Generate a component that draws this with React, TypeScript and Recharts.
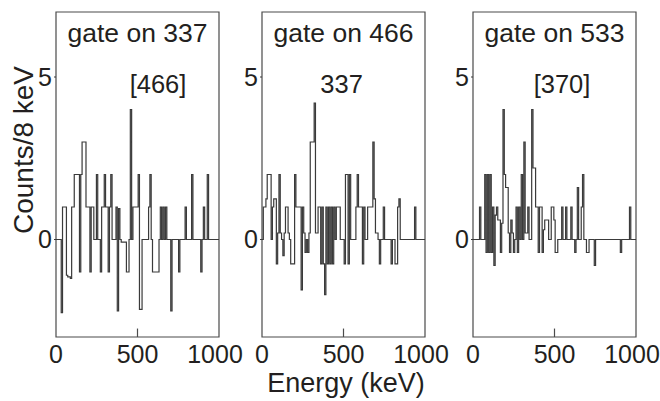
import {
  Line,
  LineChart,
  ReferenceArea,
  ReferenceDot,
  ReferenceLine,
  XAxis,
  YAxis,
} from 'recharts'

// energy ticks (keV) and count ticks
const energyTicks = [0, 500, 1000]
const countTicks = [0, 5]

// non-zero bins, [lower bin edge in keV, counts per 8 keV]; every other bin is 0
const gate337: [number, number][] = [
  [32, -2.25], [40, 1], [48, 1], [56, 1], [64, -1.1], [72, -1.15], [80, -1.15], [88, -1.2],
  [96, 1], [104, 1], [112, 2], [120, 2], [128, 2], [136, 2], [144, -1], [152, 2],
  [160, 3], [168, 3], [176, 3], [184, 1], [192, 1], [200, 1], [208, -1], [216, 1], [224, 1],
  [248, 2], [272, -1], [280, 1], [288, 1], [296, 2], [304, 1], [312, 1], [320, -1], [328, 1],
  [336, 2], [368, 1], [376, -2.2], [384, 0.95], [400, -0.08], [408, -0.08], [416, -0.08],
  [424, -0.08], [432, -1], [440, -1], [456, 4], [472, 1], [480, 1], [488, 1], [496, 1],
  [504, 2], [512, -2.15], [520, -2.15], [568, 1], [576, 2], [592, -1], [600, -1], [608, -1],
  [616, -1], [624, -1], [640, 1], [656, 1], [672, 1], [704, -2.2], [752, -1], [792, 1],
  [832, 2], [888, -1], [904, 1], [928, 2],
]

const gate466: [number, number][] = [
  [8, 1], [16, 1], [24, 1.25], [32, 2], [40, 2], [48, 2], [64, 1], [72, 1.25], [80, 1.25],
  [88, -0.75], [96, 0.2], [104, 2], [112, 0.2], [128, -0.5], [136, 0.2], [144, 1], [152, 1],
  [160, 0.2], [176, -0.75], [184, -0.75], [192, -0.75], [200, 2], [208, 1], [216, 1],
  [224, 1], [232, 1], [240, -1.55], [248, 1], [256, 0.2], [264, -0.4], [280, -0.4],
  [288, 0.2], [296, 3], [304, 3], [312, 3], [320, 4.2], [328, 0.2], [336, 0.2], [344, 1],
  [352, 1], [360, -0.75], [368, 1], [376, -0.75], [384, -1.7], [392, 1], [400, -0.75],
  [408, 1], [416, -0.75], [424, 1], [432, -0.75], [440, 1], [456, 1], [464, 1], [472, 1],
  [504, -0.75], [512, 2], [520, 2], [528, -0.75], [536, 2], [576, 1], [584, 2], [592, 1],
  [600, 1], [608, 1], [616, -0.75], [624, 1], [648, 1], [656, 1], [664, 1], [672, 1],
  [680, 3], [688, 1.25], [696, 0.2], [704, 0.2], [720, -0.75], [744, 1], [792, -0.75],
  [816, -0.75], [824, -0.75], [832, 1], [840, 1.25], [936, 1],
]

const gate533: [number, number][] = [
  [40, 1], [72, 2], [80, -0.4], [88, 2], [96, -0.4], [104, 2], [112, -0.4], [120, 1],
  [128, -0.8], [136, 0.75], [144, 1], [152, 0.6], [160, 0.6], [168, -0.4], [176, 0.5],
  [184, 4], [192, 2], [200, 1.6], [208, 1.6], [216, 0.2], [224, -0.4], [232, 0.6],
  [240, 0.2], [248, -0.4], [264, 1], [272, -0.4], [280, 1], [296, 2], [312, 3], [320, 0.2],
  [328, 0.2], [336, 1], [360, 4], [368, 2.2], [376, 2.2], [384, 1], [392, 1], [400, -0.4],
  [408, 1], [416, 1], [424, -0.4], [432, 0.3], [440, 0.6], [448, 0.6], [456, 0.6],
  [480, 1], [488, 1], [496, 0.6], [504, -0.4], [512, -0.4], [544, 1], [568, 1], [600, 1],
  [624, -0.4], [640, 1.6], [664, 1], [672, 2], [696, -0.4], [704, -0.4], [744, -0.8],
  [904, -0.4], [960, 1],
]

const titles = ['gate on 337', 'gate on 466', 'gate on 533']
const peakLabels = ['[466]', '337', '[370]']

const INK = '#231f20'
const LINE = '#3a3a3a'
const FONT = '"Liberation Sans", Arial, Helvetica, sans-serif'

function toHistogram(bins: [number, number][]) {
  const lookup = new Map(bins)
  const rows: { energy: number; counts: number }[] = []
  for (let e = 0; e < 1000; e += 8) rows.push({ energy: e, counts: lookup.get(e) ?? 0 })
  rows.push({ energy: 1000, counts: rows[rows.length - 1].counts })
  return rows
}

const panels = [
  { title: titles[0], peak: peakLabels[0], peakX: 626, data: toHistogram(gate337), left: 56 },
  { title: titles[1], peak: peakLabels[1], peakX: 488, data: toHistogram(gate466), left: 262 },
  { title: titles[2], peak: peakLabels[2], peakX: 546, data: toHistogram(gate533), left: 473 },
]

// the last label sits a little left of its tick, as in the original figure
function EnergyTick({ x, y, payload }: any) {
  const shift = payload.value === 1000 ? -4 : 0
  return (
    <text
      x={x + shift}
      y={y}
      dy="0.71em"
      textAnchor="middle"
      fontSize={25}
      fill={INK}
      fontFamily={FONT}
    >
      {payload.value}
    </text>
  )
}

function Panel({ title, peak, peakX, data, left }: (typeof panels)[number]) {
  return (
    <div style={{ position: 'absolute', left: left - 50, top: 0 }}>
      <LineChart
        width={243}
        height={401}
        data={data}
        margin={{ top: 12, right: 30, bottom: 34, left: 0 }}
        style={{ overflow: 'visible' }}
      >
        <XAxis
          dataKey="energy"
          type="number"
          domain={[0, 1000]}
          ticks={energyTicks}
          interval={0}
          height={30}
          axisLine={false}
          tickLine={false}
          tickSize={6}
          tickMargin={2}
          tick={<EnergyTick />}
        />
        <YAxis
          type="number"
          domain={[-3, 7]}
          ticks={countTicks}
          interval={0}
          width={50}
          axisLine={false}
          tickSize={2}
          tickMargin={2}
          tickLine={{ stroke: LINE }}
          tick={{ fontSize: 25, fill: INK, fontFamily: FONT }}
        />
        <ReferenceArea x1={0} x2={1000} y1={-3} y2={7} fill="none" stroke="#4a4a4a" strokeWidth={1.2} />
        <ReferenceLine
          segment={[{ x: 500, y: -3 }, { x: 500, y: -2.74 }]}
          stroke="#4a4a4a"
          strokeWidth={1.2}
        />
        <Line
          type="stepAfter"
          dataKey="counts"
          stroke={LINE}
          strokeWidth={1.2}
          dot={false}
          isAnimationActive={false}
        />
        <ReferenceDot
          x={500}
          y={6.36}
          r={0}
          fill="none"
          stroke="none"
          label={{ value: title, position: 'center', fontSize: 26.5, fill: INK, fontFamily: FONT }}
        />
        <ReferenceDot
          x={peakX}
          y={4.78}
          r={0}
          fill="none"
          stroke="none"
          label={{ value: peak, position: 'center', fontSize: 25.5, fill: INK, fontFamily: FONT }}
        />
      </LineChart>
    </div>
  )
}

export default function App() {
  return (
    <div
      style={{
        position: 'absolute',
        left: 0,
        top: 0,
        width: 660,
        height: 401,
        background: '#fff',
        fontFamily: FONT,
        color: INK,
      }}
    >
      {panels.map((p) => (
        <Panel key={p.title} {...p} />
      ))}
      <div
        style={{
          position: 'absolute',
          left: 346,
          top: 383,
          transform: 'translate(-50%, -50%)',
          fontSize: 27,
          whiteSpace: 'nowrap',
        }}
      >
        Energy (keV)
      </div>
      <div
        style={{
          position: 'absolute',
          left: 24,
          top: 150,
          transform: 'translate(-50%, -50%) rotate(-90deg)',
          fontSize: 28,
          whiteSpace: 'nowrap',
        }}
      >
        Counts/8 keV
      </div>
    </div>
  )
}
